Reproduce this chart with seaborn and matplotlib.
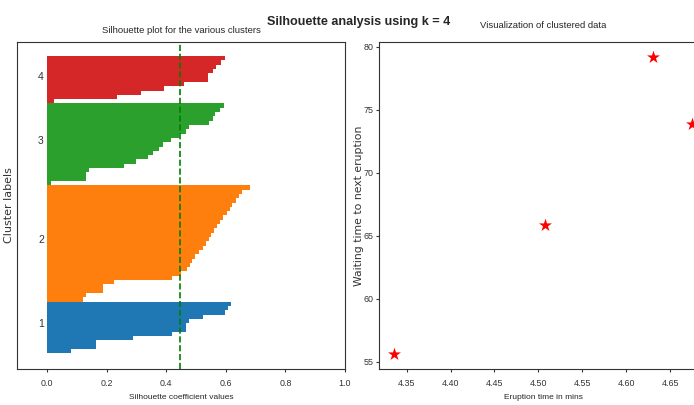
import numpy as np
import matplotlib
matplotlib.use("Agg")
import matplotlib.pyplot as plt
import seaborn as sns

# ---- data ----
cluster_labels = ["1", "2", "3", "4"]
cluster_colors = ["#1f77b4", "#ff7f0e", "#2ca02c", "#d62728"]
sil_cluster_1 = [0.08, 0.164, 0.164, 0.287, 0.42, 0.467, 0.467, 0.475, 0.523, 0.598, 0.607, 0.616]
sil_cluster_2 = [0.12, 0.13, 0.186, 0.186, 0.226, 0.418, 0.448, 0.468, 0.479, 0.488, 0.497, 0.51,
                 0.524, 0.533, 0.544, 0.55, 0.56, 0.571, 0.58, 0.589, 0.604, 0.613, 0.622, 0.635,
                 0.644, 0.655, 0.682]
sil_cluster_3 = [0.012, 0.13, 0.13, 0.141, 0.259, 0.299, 0.338, 0.355, 0.375, 0.39, 0.416, 0.444,
                 0.465, 0.478, 0.545, 0.556, 0.562, 0.579, 0.593]
sil_cluster_4 = [0.024, 0.233, 0.315, 0.394, 0.461, 0.54, 0.54, 0.556, 0.568, 0.584, 0.598]
silhouette_avg = 0.445
sil_xticks = [0.0, 0.2, 0.4, 0.6, 0.8, 1.0]

center_eruption = [4.3355, 4.507, 4.631, 4.675]
center_waiting = [55.6, 65.85, 79.2, 73.9]

NARROW = ["Liberation Sans", "DejaVu Sans"]
WIDE = ["DejaVu Sans"]

sns.set_style("ticks")
plt.rcParams["font.family"] = NARROW
plt.rcParams["axes.edgecolor"] = "#333333"
plt.rcParams["xtick.color"] = "#333333"
plt.rcParams["ytick.color"] = "#333333"
plt.rcParams["xtick.major.size"] = 2.5
plt.rcParams["ytick.major.size"] = 2.5
plt.rcParams["xtick.major.pad"] = 4.5
plt.rcParams["ytick.major.pad"] = 1.3

fig = plt.figure(figsize=(6.94, 4.05), dpi=100)
W, H = 694.0, 405.0
ax1 = fig.add_axes([17.3 / W, 36 / H, 327.7 / W, 327 / H])
ax2 = fig.add_axes([379 / W, 36 / H, 328 / W, 327 / H])

# ---- silhouette plot ----
y_lower = 0
for vals, lab, col in zip([sil_cluster_1, sil_cluster_2, sil_cluster_3, sil_cluster_4],
                          cluster_labels, cluster_colors):
    vals = np.sort(np.asarray(vals))
    n = len(vals)
    y_edges = np.arange(y_lower, y_lower + n + 1)
    ax1.fill_betweenx(y_edges, 0, np.append(vals, vals[-1]), step="post",
                      facecolor=col, edgecolor=col, linewidth=0)
    ax1.text(-0.03, y_lower + 0.5 * n, lab, fontsize=7.5, color="#333333",
             va="baseline", ha="left")
    y_lower += n

ax1.axvline(silhouette_avg, color="green", linestyle="--", linewidth=1.2)
ax1.set_xlim(-0.1, 1.0)
ax1.set_ylim(-3.65, y_lower + 3.26)
ax1.set_yticks([])
ax1.set_xticks(sil_xticks)
ax1.tick_params(axis="x", labelsize=6.4)
ax1.set_title("Silhouette plot for the various clusters", fontsize=6.8, pad=6.5)
ax1.set_xlabel("Silhouette coefficient values", fontsize=6, labelpad=4.5)
ax1.set_ylabel("Cluster labels", fontsize=8, family=WIDE, color="#333333")
ax1.yaxis.set_label_coords(-0.009, 0.5)

# ---- clustered data ----
sns.scatterplot(x=center_eruption, y=center_waiting, marker="*", color="red",
                s=95, linewidth=0, ax=ax2)
ax2.tick_params(axis="both", labelsize=6.4)
ax2.set_title("Visualization of clustered data", fontsize=6.8, pad=10)
ax2.set_xlabel("Eruption time in mins", fontsize=6, labelpad=4.5)
ax2.set_ylabel("Waiting time to next eruption", fontsize=7.8, family=WIDE, color="#333333")
ax2.yaxis.set_label_coords(-0.047, 0.5)

fig.text(359 / W, 1 - 21.5 / H, "Silhouette analysis using k = 4", ha="center", va="center",
         fontsize=9.1, fontweight="bold")

fig.savefig("out.png", dpi=100)
